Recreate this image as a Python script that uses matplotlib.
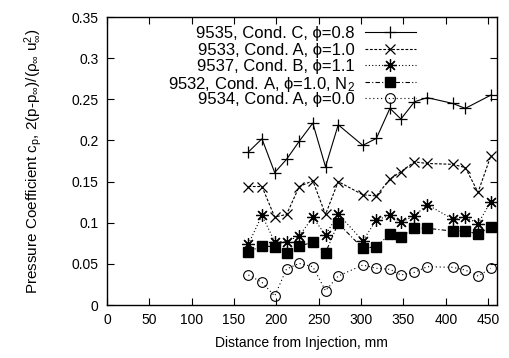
import matplotlib
matplotlib.use("Agg")
import matplotlib.pyplot as plt

plt.rcParams['font.family'] = ['Liberation Sans', 'DejaVu Sans']
plt.rcParams['mathtext.fontset'] = 'custom'
plt.rcParams['mathtext.rm'] = 'Liberation Sans'
plt.rcParams['mathtext.it'] = 'Liberation Sans'
plt.rcParams['mathtext.bf'] = 'Liberation Sans'

x_all = [167, 183, 198, 212, 227, 243, 258, 273, 302, 318, 334, 347, 363, 378, 408, 423, 438, 453]
x_9535 = [167, 183, 198, 212, 227, 243, 258, 273, 302, 318, 334, 347, 363, 378, 408, 423, 453]

y_9535 = [0.186, 0.202, 0.161, 0.177, 0.199, 0.221, 0.168, 0.219, 0.194, 0.2025, 0.239, 0.226, 0.247, 0.252, 0.245, 0.239, 0.255]
y_9533 = [0.144, 0.144, 0.107, 0.110, 0.144, 0.151, 0.110, 0.150, 0.134, 0.1325, 0.153, 0.162, 0.174, 0.172, 0.171, 0.167, 0.137, 0.181]
y_9537 = [0.074, 0.109, 0.077, 0.077, 0.084, 0.1066, 0.085, 0.1106, 0.078, 0.1033, 0.109, 0.1005, 0.1085, 0.122, 0.1045, 0.107, 0.099, 0.1256]
y_9532 = [0.0648, 0.0717, 0.0709, 0.0628, 0.0717, 0.0762, 0.0636, 0.0993, 0.0689, 0.0709, 0.0863, 0.083, 0.0932, 0.0932, 0.0899, 0.0899, 0.0863, 0.0952]
y_9534 = [0.0365, 0.0276, 0.011, 0.0437, 0.0506, 0.0466, 0.0174, 0.0352, 0.0486, 0.0446, 0.0434, 0.0365, 0.0397, 0.0466, 0.0458, 0.0425, 0.0352, 0.0446]

labels = ['9535, Cond. C, \u03d5=0.8',
          '9533, Cond. A, \u03d5=1.0',
          '9537, Cond. B, \u03d5=1.1',
          '9532, Cond. A, \u03d5=1.0, N$_2$',
          '9534, Cond. A, \u03d5=0.0']

xticks = [0, 50, 100, 150, 200, 250, 300, 350, 400, 450]
yticks = [0, 0.05, 0.1, 0.15, 0.2, 0.25, 0.3, 0.35]
yticklabels = ['0', '0.05', '0.1', '0.15', '0.2', '0.25', '0.3', '0.35']

fig = plt.figure(figsize=(5.09, 3.58), dpi=100)
ax = fig.add_axes([0.210, 0.148, 0.7658, 0.8045])

lw = 0.8
styles = [
    dict(ls='-', marker='+', ms=9, mew=0.9),
    dict(ls=(0, (2.5, 1.5)), marker='x', ms=7, mew=0.9),
    dict(ls=(0, (1, 2)), marker=(8, 2, 0), ms=9, mew=0.9),
    dict(ls=(0, (4, 2, 1, 2)), marker='s', ms=7, mfc='black'),
    dict(ls=(0, (1, 2.5)), marker='o', ms=7, mfc='none', mew=0.8),
]
series = [(x_9535, y_9535), (x_all, y_9533), (x_all, y_9537), (x_all, y_9532), (x_all, y_9534)]

for (xs, ys), st in zip(series, styles):
    ax.plot(xs, ys, color='black', lw=lw, **st)

# manual gnuplot-style legend (text right-aligned, sample line to the right)
W, H = 389.7, 288.0
def fx(px):
    return (px - 107) / W
def fy(py):
    return 1 - (py - 17) / H

row_py = [32, 48.5, 65, 81.5, 98]
for lab, st, py in zip(labels, styles, row_py):
    y = fy(py)
    ax.text(fx(355), y, lab, transform=ax.transAxes, ha='right', va='center_baseline', fontsize=12)
    line_st = {k: v for k, v in st.items() if k == 'ls'}
    ax.plot([fx(365), fx(416)], [y, y], transform=ax.transAxes, color='black', lw=lw,
            clip_on=False, **line_st)
    mk_st = {k: v for k, v in st.items() if k != 'ls'}
    ax.plot([fx(390.5)], [y], transform=ax.transAxes, color='black', ls='none',
            clip_on=False, **mk_st)

ax.set_xlim(0, 460)
ax.set_ylim(0, 0.35)
ax.set_xticks(xticks)
ax.set_yticks(yticks)
ax.set_yticklabels(yticklabels)
ax.tick_params(direction='in', top=True, right=True, length=5, width=0.8, labelsize=10, pad=6)
for s in ax.spines.values():
    s.set_linewidth(1.0)

ax.set_xlabel('Distance from Injection, mm', fontsize=10)
ax.xaxis.set_label_coords(0.5, -0.108)
ax.set_ylabel(r'Pressure Coefficient c$_p$, 2(p-p$_\infty$)/($\rho_\infty$ u$_\infty^2$)', fontsize=11)
ax.yaxis.set_label_coords(-0.16, 0.5)

fig.savefig('out.png', dpi=100)
